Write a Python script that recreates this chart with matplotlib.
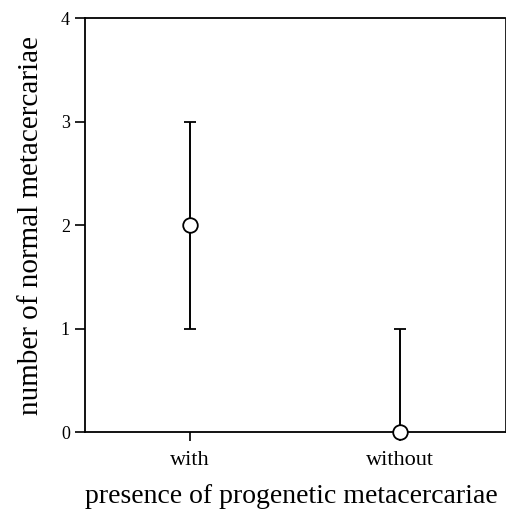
import matplotlib
matplotlib.use("Agg")
import matplotlib.pyplot as plt

groups = ["with", "without"]
medians = [2, 0]
lower = [1, 0]
upper = [3, 1]

plt.rcParams["font.family"] = ["Liberation Serif", "DejaVu Serif"]

fig = plt.figure(figsize=(5.07, 5.15), dpi=100)
ax = fig.add_axes([0.168, 0.161, 0.828, 0.804])

xs = list(range(len(groups)))
err_lo = [m - l for m, l in zip(medians, lower)]
err_hi = [u - m for m, u in zip(medians, upper)]
ax.errorbar(xs, medians, yerr=[err_lo, err_hi], fmt="o", color="black",
            mfc="white", mec="black", ms=10.5, mew=1.3, elinewidth=1.4,
            capsize=4.5, capthick=1.4, clip_on=False, zorder=3)

ax.set_xlim(-0.5, 1.5)
ax.set_ylim(0, 4)
ax.set_yticks([0, 1, 2, 3, 4])
ax.set_xticks(xs)
ax.set_xticklabels(groups, fontsize=16)
ax.tick_params(axis="y", labelsize=13, direction="out", length=7, width=1.2, pad=4)
ax.tick_params(axis="x", direction="out", length=6.5, width=1.2, pad=7)
for s in ax.spines.values():
    s.set_linewidth(1.3)
ax.spines["right"].set_linewidth(0.6)

ax.set_ylabel("number of normal metacercariae", fontsize=21, labelpad=12)
ax.set_xlabel("presence of progenetic metacercariae", fontsize=20)
ax.xaxis.set_label_coords(0.49, -0.125)

fig.savefig("out.png", dpi=100)
